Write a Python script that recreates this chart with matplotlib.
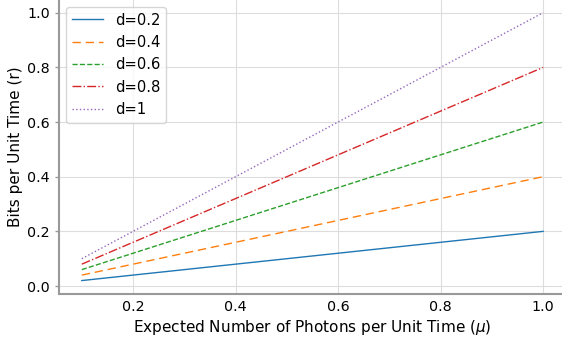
import matplotlib.pyplot as plt

# expected photons per unit time
mu = [0.1, 0.2, 0.3, 0.4, 0.5, 0.6, 0.7, 0.8, 0.9, 1.0]

# bits per unit time for each d
r_02 = [0.02, 0.04, 0.06, 0.08, 0.10, 0.12, 0.14, 0.16, 0.18, 0.20]
r_04 = [0.04, 0.08, 0.12, 0.16, 0.20, 0.24, 0.28, 0.32, 0.36, 0.40]
r_06 = [0.06, 0.12, 0.18, 0.24, 0.30, 0.36, 0.42, 0.48, 0.54, 0.60]
r_08 = [0.08, 0.16, 0.24, 0.32, 0.40, 0.48, 0.56, 0.64, 0.72, 0.80]
r_10 = [0.10, 0.20, 0.30, 0.40, 0.50, 0.60, 0.70, 0.80, 0.90, 1.00]

labels = ['d=0.2', 'd=0.4', 'd=0.6', 'd=0.8', 'd=1']

fig = plt.figure(figsize=(5.62, 3.43), dpi=100)
ax = fig.add_axes([0.1045, 0.143, 0.903, 0.859])

ax.plot(mu, r_02, color='tab:blue', linestyle='-', linewidth=1, label=labels[0])
ax.plot(mu, r_04, color='tab:orange', linestyle=(0, (6, 3.5)), linewidth=1, label=labels[1])
ax.plot(mu, r_06, color='tab:green', linestyle='--', linewidth=1, label=labels[2])
ax.plot(mu, r_08, color='tab:red', linestyle='-.', linewidth=1, label=labels[3])
ax.plot(mu, r_10, color='tab:purple', linestyle=':', linewidth=1, label=labels[4])

ax.set_xticks([0.2, 0.4, 0.6, 0.8, 1.0])
ax.set_yticks([0.0, 0.2, 0.4, 0.6, 0.8, 1.0])
ax.tick_params(labelsize=10.3, color='#999999', width=1)
ax.tick_params(axis='x', length=0, pad=4.5)
ax.tick_params(axis='y', length=3, pad=3.5)
ax.set_xlabel('Expected Number of Photons per Unit Time ($\\mu$)', fontsize=11, labelpad=3)
ax.set_ylabel('Bits per Unit Time (r)', fontsize=11, labelpad=2.5)

ax.grid(True, color='#dddddd', linewidth=0.8)
ax.set_axisbelow(True)
for s in ['top', 'right']:
    ax.spines[s].set_visible(False)
for s in ['left', 'bottom']:
    ax.spines[s].set_color('#999999')
    ax.spines[s].set_linewidth(1.5)

ax.legend(loc='upper left', fontsize=10.6, handlelength=2.1)

plt.savefig('out.png', dpi=100)
